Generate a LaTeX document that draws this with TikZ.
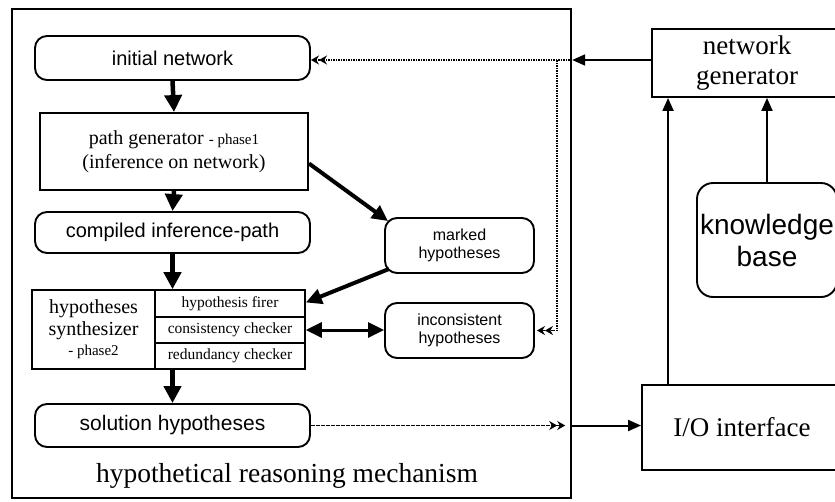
\documentclass[tikz,border=0pt]{standalone}
\usepackage{fontspec}
\setmainfont{Liberation Serif}
\setsansfont{Liberation Sans}
\usetikzlibrary{arrows.meta,calc}
\begin{document}
\begin{tikzpicture}[x=1pt,y=-1pt,
  rbox/.style={draw, line width=1.9pt, rounded corners=12pt, inner sep=0pt, align=center,
               font=\sffamily\fontsize{20}{22}\selectfont},
  sbox/.style={draw, line width=1.9pt, inner sep=0pt, align=center,
               font=\fontsize{20}{22}\selectfont},
  cell/.style={draw, line width=1.6pt, inner sep=0pt, align=center,
               font=\fontsize{15.5}{17}\selectfont},
  bigarrow/.style={-{Triangle[length=17pt 0 0,width=17pt 0 0]}, line width=4.5pt},
  diagarrow/.style={-{Triangle[length=16pt 0 0,width=15pt 0 0]}, line width=4pt},
  dblarrow/.style={{Triangle[length=16pt 0 0,width=15pt 0 0]}-{Triangle[length=16pt 0 0,width=15pt 0 0]}, line width=3pt},
  thinarrow/.style={-{Triangle[length=13pt 0 0,width=11pt 0 0]}, line width=2pt},
  sigline/.style={line width=1.7pt, dash pattern=on 1.6pt off 0.9pt},
  sigarrow/.style={sigline, -{Stealth[length=8pt 0 0,width=9pt 0 0]Stealth[length=8pt 0 0,width=9pt 0 0]}},
]
\useasboundingbox (0,0) rectangle (835,501);
\clip (0,0) rectangle (835,501);
\fill[white] (0,0) rectangle (835,501);

% outer mechanism box
\node[draw, line width=2.4pt, minimum width=559pt, minimum height=489pt, inner sep=0pt] (mech) at (291.5,253.5) {};
\node[font=\fontsize{27.5}{30}\selectfont] (title) at (287,476) {hypothetical reasoning mechanism};

% left column
\node[rbox, minimum width=275pt, minimum height=44pt] (init) at (172.5,58) {initial network};
\node[sbox, minimum width=268pt, minimum height=77pt] (pathgen) at (174,151.5)
  {path generator {\fontsize{15}{16}\selectfont - phase1}\\[2pt](inference on network)};
\node[rbox, minimum width=275pt, minimum height=41pt] (compiled) at (172.5,232.5) {compiled inference-path};

\node[sbox, minimum width=123pt, minimum height=79pt] (synth) at (93.5,329.5)
  {hypotheses\\synthesizer\\[-2pt]{\fontsize{15}{17}\selectfont - phase2}};
\node[cell, minimum width=150pt, minimum height=27pt] (firer) at (230,303.5) {hypothesis firer};
\node[cell, minimum width=150pt, minimum height=26pt] (cons) at (230,330) {consistency checker};
\node[cell, minimum width=150pt, minimum height=26pt] (red) at (230,356) {redundancy checker};

\node[rbox, minimum width=275pt, minimum height=43pt, font=\sffamily\fontsize{21}{23}\selectfont] (solution) at (172.5,425.5) {solution hypotheses};

% middle column
\node[rbox, minimum width=149pt, minimum height=55pt, font=\sffamily\fontsize{16}{18}\selectfont] (marked) at (459.5,245.5) {marked\\hypotheses};
\node[rbox, minimum width=149pt, minimum height=55pt, font=\sffamily\fontsize{16}{18}\selectfont] (incons) at (459.5,330.5) {inconsistent\\hypotheses};

% right column
\node[sbox, minimum width=190pt, minimum height=68pt, font=\fontsize{27}{30}\selectfont] (netgen) at (747,63) {network\\generator};
\node[rbox, rounded corners=16pt, minimum width=140pt, minimum height=114pt, font=\sffamily\fontsize{28}{32}\selectfont] (kb) at (767,240) {knowledge\\base};
\node[sbox, minimum width=200pt, minimum height=85pt, font=\fontsize{27}{30}\selectfont] (io) at (742,427.5) {I/O interface};

% coordinates on the mechanism border
\coordinate (gin) at (mech.east |- 0,60);
\coordinate (gdown) at (557,60);
\coordinate (gout) at (mech.east |- solution.east);

% main flow
\draw[bigarrow] (init.south) -- (pathgen.north);
\draw[bigarrow] (pathgen.south) -- (compiled.north);
\draw[bigarrow] (compiled.south) -- (compiled.south |- firer.north);
\draw[bigarrow] (solution.north |- red.south) -- (solution.north);

\draw[diagarrow] ($(pathgen.east)+(0,12)$) -- ($(marked.north west)+(4,4)$);
\draw[diagarrow] ($(marked.south west)+(5,-5)$) -- ($(firer.east)+(0,-1)$);
\draw[dblarrow] (cons.east) -- (cons.east -| incons.west);

% signal lines
\draw[sigarrow] (gin) -- (init.east |- gin);
\draw[sigarrow] (gdown) |- ($(incons.east)+(2,0)$);
\draw[sigarrow] (solution.east) -- ($(gout)+(-7,0)$);

% external connections
\draw[thinarrow] (netgen.west |- gin) -- (gin);
\draw[thinarrow] (gout) -- (io.west |- gout);
\draw[thinarrow] ([xshift=27pt]io.north west) -- ([xshift=27pt]io.north west |- netgen.south);
\draw[thinarrow] (kb.north) -- (kb.north |- netgen.south);
\end{tikzpicture}
\end{document}
